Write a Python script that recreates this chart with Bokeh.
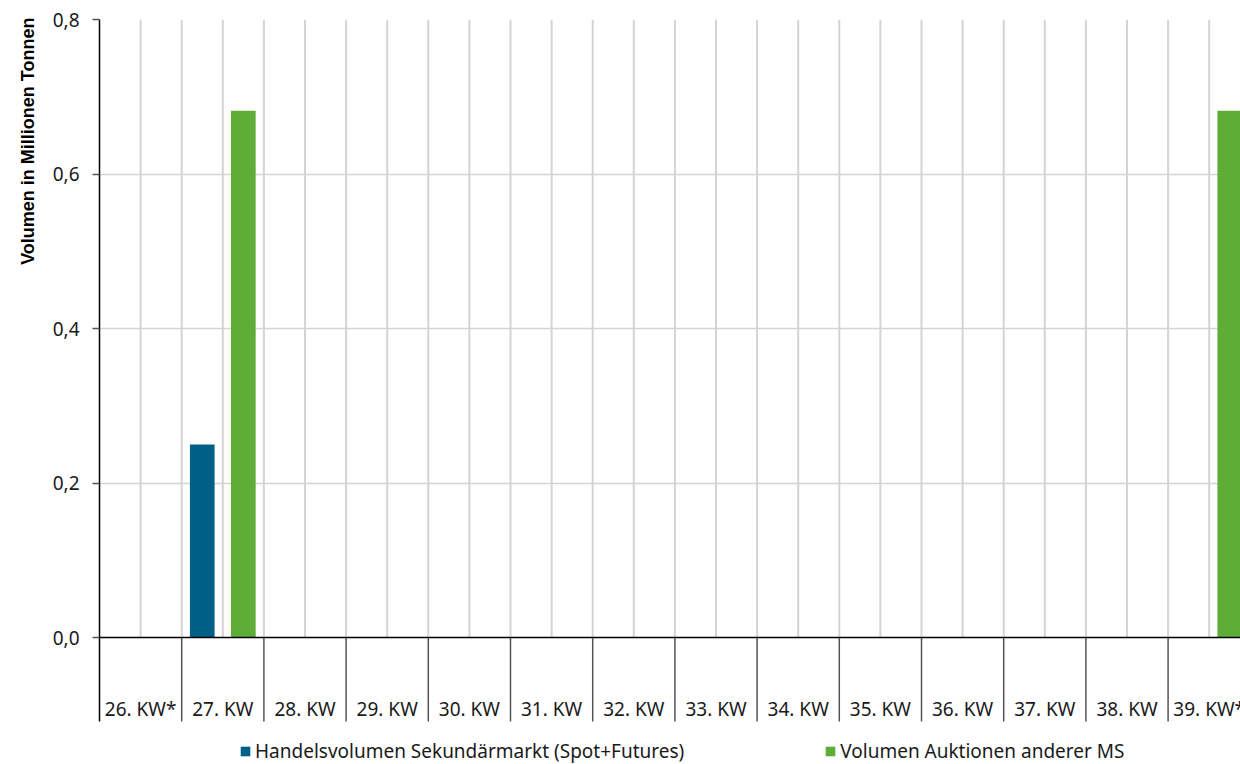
import numpy as np
from bokeh.plotting import figure
from bokeh.models import (ColumnDataSource, Range1d, FixedTicker, CustomJSTickFormatter,
                          Span, Title, Legend, LegendItem)
from bokeh.core.properties import value
from bokeh.embed import file_html
from bokeh.resources import INLINE

# ---- data ----
categories = ["26. KW*", "27. KW", "28. KW", "29. KW", "30. KW", "31. KW", "32. KW",
              "33. KW", "34. KW", "35. KW", "36. KW", "37. KW", "38. KW", "39. KW*"]
handel = [0, 0.25, 0, 0, 0, 0, 0, 0, 0, 0, 0, 0, 0, 0]
auktion = [0, 0.682, 0, 0, 0, 0, 0, 0, 0, 0, 0, 0, 0, 0.682]
y_ticks = [0.0, 0.2, 0.4, 0.6, 0.8]
series_names = ["Handelsvolumen Sekundärmarkt (Spot+Futures)", "Volumen Auktionen anderer MS"]
y_title = "Volumen in Millionen Tonnen"

BLUE = "#005F86"
GREEN = "#5DAD36"
FONT = "Noto Sans"

n = len(categories)
idx = np.arange(n)
W, H = 1240, 764
LEFT, TOP = 99, 19
PX_PER_UNIT = 772.5
ZERO_Y = 637
y_bottom = -(H - ZERO_Y) / PX_PER_UNIT
y_div = -(721 - ZERO_Y) / PX_PER_UNIT
x_end = (W - LEFT) / 82.2

p = figure(width=W, height=H, output_backend="svg", toolbar_location=None,
           x_range=Range1d(0, x_end), y_range=Range1d(y_bottom, 0.8),
           x_axis_location=None, y_axis_location="left",
           min_border_left=LEFT, min_border_top=TOP, min_border_right=0, min_border_bottom=0)
p.outline_line_color = None
p.background_fill_color = "white"
p.border_fill_color = "white"

# grids
p.xgrid.visible = False
p.ygrid.ticker = FixedTicker(ticks=y_ticks[1:])
p.ygrid.grid_line_color = "#d4d4d4"
p.ygrid.grid_line_width = 1.5

# vertical grid lines (half-category) above zero
gx = np.arange(1, 2 * n) * 0.5
p.segment(x0=gx, y0=np.zeros_like(gx), x1=gx, y1=np.full_like(gx, y_ticks[-1]),
          line_color="#d4d4d4", line_width=2)

# category dividers below the axis
dx = np.arange(1, n).astype(float)
p.segment(x0=dx, y0=np.zeros_like(dx), x1=dx, y1=np.full(len(dx), y_div),
          line_color="#555555", line_width=1.5)

# bars
src = ColumnDataSource(dict(x1=idx + 0.25, x2=idx + 0.75, h=handel, a=auktion))
r1 = p.vbar(x="x1", top="h", width=0.30, source=src, fill_color=BLUE, line_color=None)
r2 = p.vbar(x="x2", top="a", width=0.30, source=src, fill_color=GREEN, line_color=None)

# zero line
p.add_layout(Span(location=0, dimension="width", line_color="black", line_width=1.5))

# category labels
lab_src = ColumnDataSource(dict(x=idx + 0.5, y=np.full(n, -(708 - ZERO_Y) / PX_PER_UNIT), t=categories))
p.text(x="x", y="y", text="t", source=lab_src, text_align="center", text_baseline="middle",
       text_font=value(FONT), text_font_size="19px", text_color="#1a1a1a")

# y axis
ax = p.yaxis[0]
ax.ticker = FixedTicker(ticks=y_ticks)
ax.formatter = CustomJSTickFormatter(code="return tick.toFixed(1).replace('.', ',');")
ax.bounds = (y_div, y_ticks[-1])
ax.axis_line_color = "black"
ax.axis_line_width = 1.5
ax.major_tick_out = 7
ax.major_tick_in = 0
ax.major_tick_line_color = "#555555"
ax.major_tick_line_width = 1.5
ax.minor_tick_line_color = None
ax.major_label_standoff = 13
ax.major_label_text_font = FONT
ax.major_label_text_font_size = "19px"
ax.major_label_text_color = "#1a1a1a"

# y title near top (left side panel)
p.add_layout(Title(text=y_title, align="right", text_font="Liberation Sans",
                   text_font_style="bold", text_font_size="18px", text_color="black",
                   standoff=24, offset=-2), "left")

# legend
legend = Legend(items=[LegendItem(label=series_names[0], renderers=[r1]),
                       LegendItem(label=series_names[1], renderers=[r2])],
                orientation="horizontal", location=(140, 0), padding=0, margin=0,
                spacing=140, glyph_width=12, glyph_height=12, label_standoff=4,
                label_height=18, label_text_font=FONT, label_text_font_size="19px",
                label_text_color="#1a1a1a", border_line_color=None, background_fill_alpha=0)
p.add_layout(legend, "center")

open("out.html", "w").write(file_html(p, INLINE))
